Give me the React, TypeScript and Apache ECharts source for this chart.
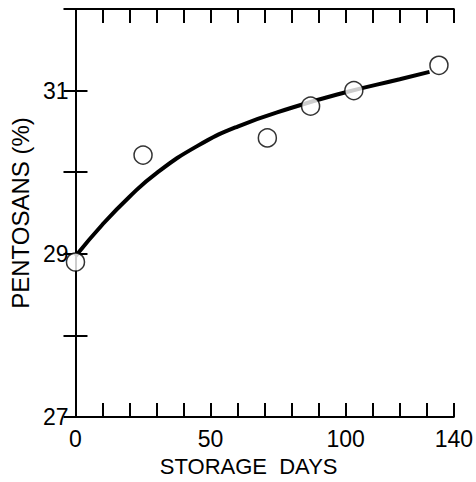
import React, { useEffect, useRef } from "react";
import * as echarts from "echarts";

// Measured points (storage days, pentosans %)
const pointDays = [0, 25, 71, 87, 103, 134.5];
const pointPentosans = [28.9, 30.21, 30.42, 30.81, 31.0, 31.31];

// Fitted curve
const curveDays = [0, 10, 20, 30, 45, 60, 80, 100, 120, 131];
const curvePentosans = [28.97, 29.36, 29.7, 29.99, 30.32, 30.56, 30.79, 30.98, 31.14, 31.23];

const xLabels = [0, 50, 100, 140];
const yLabels = [27, 29, 31];

const FONT = "'Liberation Sans', Arial, sans-serif";

export default function App() {
  const ref = useRef<HTMLDivElement>(null);
  useEffect(() => {
    if (!ref.current) return;
    const chart = echarts.init(ref.current, undefined, { renderer: "svg" });
    const axisLine = { show: true, lineStyle: { color: "#000", width: 2 } };
    const xTick = { show: true, inside: true, length: 14, lineStyle: { color: "#000", width: 2 } };
    const yTick = { show: true, inside: true, length: 12, lineStyle: { color: "#000", width: 2 } };
    chart.setOption({
      animation: false,
      backgroundColor: "#fff",
      grid: { left: 70, right: 15, top: 9, bottom: 61 },
      xAxis: [
        {
          type: "value",
          min: 0,
          max: 140,
          interval: 10,
          position: "bottom",
          name: "STORAGE  DAYS",
          nameLocation: "middle",
          nameGap: 30,
          nameTextStyle: { color: "#000", fontSize: 22, fontFamily: FONT, padding: [0, 32, 0, 0] },
          axisLine,
          axisTick: xTick,
          splitLine: { show: false },
          axisLabel: {
            color: "#000",
            fontSize: 23,
            fontFamily: FONT,
            margin: 10,
            showMinLabel: true,
            showMaxLabel: true,
            formatter: (v: number) => (xLabels.includes(v) ? String(v) : ""),
          },
        },
        {
          type: "value",
          min: 0,
          max: 140,
          interval: 10,
          position: "top",
          axisLine,
          axisTick: xTick,
          splitLine: { show: false },
          axisLabel: { show: false },
        },
      ],
      yAxis: [
        {
          type: "value",
          min: 27,
          max: 32,
          interval: 1,
          position: "left",
          name: "PENTOSANS (%)",
          nameLocation: "middle",
          nameGap: 38,
          nameTextStyle: { color: "#000", fontSize: 24, fontFamily: FONT },
          axisLine,
          axisTick: yTick,
          splitLine: { show: false },
          axisLabel: {
            color: "#000",
            fontSize: 23,
            fontFamily: FONT,
            margin: 7,
            formatter: (v: number) => (yLabels.includes(v) ? String(v) : ""),
          },
        },
        {
          type: "value",
          min: 27,
          max: 32,
          interval: 1,
          position: "right",
          axisLine,
          axisTick: yTick,
          splitLine: { show: false },
          axisLabel: { show: false },
        },
      ],
      series: [
        {
          type: "line",
          data: curveDays.map((d, i) => [d, curvePentosans[i]]),
          smooth: true,
          symbol: "none",
          lineStyle: { color: "#000", width: 4 },
          z: 2,
        },
        {
          type: "scatter",
          data: pointDays.map((d, i) => [d, pointPentosans[i]]),
          symbol: "circle",
          symbolSize: 18,
          itemStyle: { color: "#fff", borderColor: "#000", borderWidth: 1.5 },
          z: 3,
        },
      ],
    });
    return () => chart.dispose();
  }, []);
  return (
    <div
      ref={ref}
      style={{ position: "fixed", left: 0, top: 0, width: 476, height: 482 }}
    />
  );
}
